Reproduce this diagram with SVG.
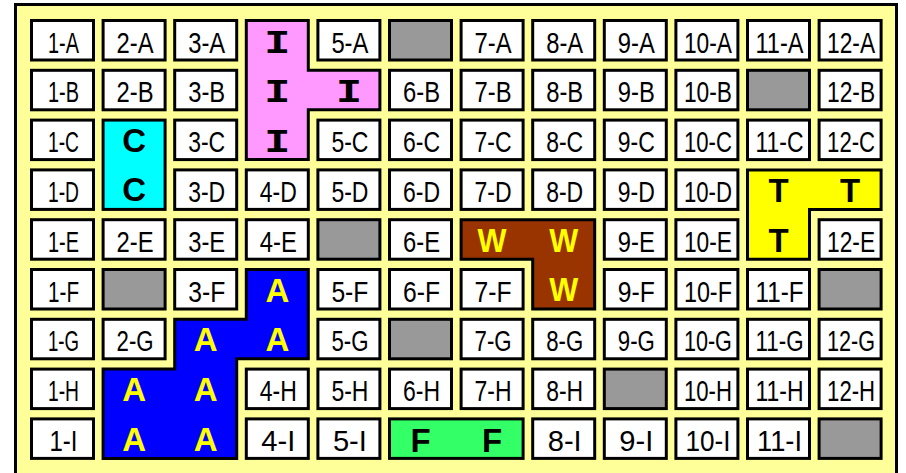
<svg xmlns="http://www.w3.org/2000/svg" width="906" height="473" viewBox="0 0 906 473">
<style>
.w{fill:#FFFFFF;stroke:#000;stroke-width:3}
.g{fill:#999999;stroke:#000;stroke-width:3}
.s{stroke:#000;stroke-width:3;stroke-linejoin:miter}
.t{font-family:"Liberation Sans",Arial,sans-serif;font-size:30px;fill:#000;text-anchor:middle}
.b{font-family:"Liberation Sans",Arial,sans-serif;font-weight:bold;font-size:33px;text-anchor:middle}
.bi{font-family:"Liberation Mono","Courier New",monospace;font-weight:bold;font-size:34px;text-anchor:middle;fill:#000}
</style>
<defs>
<rect id="box" x="1.5" y="1.5" width="62" height="39.5"/>
</defs>
<rect id="frame" x="15.5" y="4.5" width="881" height="480" fill="#FFFF99" stroke="#000" stroke-width="3"/>
<g id="cells">
<g id="c1A" transform="translate(30,19)"><use href="#box" class="w"/><text class="t" x="33.5" y="33.7" textLength="31" lengthAdjust="spacingAndGlyphs">1-A</text></g>
<g id="c2A" transform="translate(101.6,19)"><use href="#box" class="w"/><text class="t" x="33.5" y="33.7" textLength="37" lengthAdjust="spacingAndGlyphs">2-A</text></g>
<g id="c3A" transform="translate(173.2,19)"><use href="#box" class="w"/><text class="t" x="33.5" y="33.7" textLength="37" lengthAdjust="spacingAndGlyphs">3-A</text></g>
<g id="c5A" transform="translate(316.4,19)"><use href="#box" class="w"/><text class="t" x="33.5" y="33.7" textLength="37" lengthAdjust="spacingAndGlyphs">5-A</text></g>
<g id="c6A" transform="translate(388,19)"><use href="#box" class="g"/></g>
<g id="c7A" transform="translate(459.6,19)"><use href="#box" class="w"/><text class="t" x="33.5" y="33.7" textLength="37" lengthAdjust="spacingAndGlyphs">7-A</text></g>
<g id="c8A" transform="translate(531.2,19)"><use href="#box" class="w"/><text class="t" x="33.5" y="33.7" textLength="37" lengthAdjust="spacingAndGlyphs">8-A</text></g>
<g id="c9A" transform="translate(602.8,19)"><use href="#box" class="w"/><text class="t" x="33.5" y="33.7" textLength="37" lengthAdjust="spacingAndGlyphs">9-A</text></g>
<g id="c10A" transform="translate(674.4,19)"><use href="#box" class="w"/><text class="t" x="33.5" y="33.7" textLength="48" lengthAdjust="spacingAndGlyphs">10-A</text></g>
<g id="c11A" transform="translate(746,19)"><use href="#box" class="w"/><text class="t" x="33.5" y="33.7" textLength="48" lengthAdjust="spacingAndGlyphs">11-A</text></g>
<g id="c12A" transform="translate(817.6,19)"><use href="#box" class="w"/><text class="t" x="33.5" y="33.7" textLength="48" lengthAdjust="spacingAndGlyphs">12-A</text></g>

<g id="c1B" transform="translate(30,68.8)"><use href="#box" class="w"/><text class="t" x="33.5" y="33.7" textLength="31" lengthAdjust="spacingAndGlyphs">1-B</text></g>
<g id="c2B" transform="translate(101.6,68.8)"><use href="#box" class="w"/><text class="t" x="33.5" y="33.7" textLength="37" lengthAdjust="spacingAndGlyphs">2-B</text></g>
<g id="c3B" transform="translate(173.2,68.8)"><use href="#box" class="w"/><text class="t" x="33.5" y="33.7" textLength="37" lengthAdjust="spacingAndGlyphs">3-B</text></g>
<g id="c6B" transform="translate(388,68.8)"><use href="#box" class="w"/><text class="t" x="33.5" y="33.7" textLength="37" lengthAdjust="spacingAndGlyphs">6-B</text></g>
<g id="c7B" transform="translate(459.6,68.8)"><use href="#box" class="w"/><text class="t" x="33.5" y="33.7" textLength="37" lengthAdjust="spacingAndGlyphs">7-B</text></g>
<g id="c8B" transform="translate(531.2,68.8)"><use href="#box" class="w"/><text class="t" x="33.5" y="33.7" textLength="37" lengthAdjust="spacingAndGlyphs">8-B</text></g>
<g id="c9B" transform="translate(602.8,68.8)"><use href="#box" class="w"/><text class="t" x="33.5" y="33.7" textLength="37" lengthAdjust="spacingAndGlyphs">9-B</text></g>
<g id="c10B" transform="translate(674.4,68.8)"><use href="#box" class="w"/><text class="t" x="33.5" y="33.7" textLength="48" lengthAdjust="spacingAndGlyphs">10-B</text></g>
<g id="c11B" transform="translate(746,68.8)"><use href="#box" class="g"/></g>
<g id="c12B" transform="translate(817.6,68.8)"><use href="#box" class="w"/><text class="t" x="33.5" y="33.7" textLength="48" lengthAdjust="spacingAndGlyphs">12-B</text></g>

<g id="c1C" transform="translate(30,118.6)"><use href="#box" class="w"/><text class="t" x="33.5" y="33.7" textLength="31" lengthAdjust="spacingAndGlyphs">1-C</text></g>
<g id="c3C" transform="translate(173.2,118.6)"><use href="#box" class="w"/><text class="t" x="33.5" y="33.7" textLength="37" lengthAdjust="spacingAndGlyphs">3-C</text></g>
<g id="c5C" transform="translate(316.4,118.6)"><use href="#box" class="w"/><text class="t" x="33.5" y="33.7" textLength="37" lengthAdjust="spacingAndGlyphs">5-C</text></g>
<g id="c6C" transform="translate(388,118.6)"><use href="#box" class="w"/><text class="t" x="33.5" y="33.7" textLength="37" lengthAdjust="spacingAndGlyphs">6-C</text></g>
<g id="c7C" transform="translate(459.6,118.6)"><use href="#box" class="w"/><text class="t" x="33.5" y="33.7" textLength="37" lengthAdjust="spacingAndGlyphs">7-C</text></g>
<g id="c8C" transform="translate(531.2,118.6)"><use href="#box" class="w"/><text class="t" x="33.5" y="33.7" textLength="37" lengthAdjust="spacingAndGlyphs">8-C</text></g>
<g id="c9C" transform="translate(602.8,118.6)"><use href="#box" class="w"/><text class="t" x="33.5" y="33.7" textLength="37" lengthAdjust="spacingAndGlyphs">9-C</text></g>
<g id="c10C" transform="translate(674.4,118.6)"><use href="#box" class="w"/><text class="t" x="33.5" y="33.7" textLength="48" lengthAdjust="spacingAndGlyphs">10-C</text></g>
<g id="c11C" transform="translate(746,118.6)"><use href="#box" class="w"/><text class="t" x="33.5" y="33.7" textLength="48" lengthAdjust="spacingAndGlyphs">11-C</text></g>
<g id="c12C" transform="translate(817.6,118.6)"><use href="#box" class="w"/><text class="t" x="33.5" y="33.7" textLength="48" lengthAdjust="spacingAndGlyphs">12-C</text></g>

<g id="c1D" transform="translate(30,168.4)"><use href="#box" class="w"/><text class="t" x="33.5" y="33.7" textLength="31" lengthAdjust="spacingAndGlyphs">1-D</text></g>
<g id="c3D" transform="translate(173.2,168.4)"><use href="#box" class="w"/><text class="t" x="33.5" y="33.7" textLength="37" lengthAdjust="spacingAndGlyphs">3-D</text></g>
<g id="c4D" transform="translate(244.8,168.4)"><use href="#box" class="w"/><text class="t" x="33.5" y="33.7" textLength="37" lengthAdjust="spacingAndGlyphs">4-D</text></g>
<g id="c5D" transform="translate(316.4,168.4)"><use href="#box" class="w"/><text class="t" x="33.5" y="33.7" textLength="37" lengthAdjust="spacingAndGlyphs">5-D</text></g>
<g id="c6D" transform="translate(388,168.4)"><use href="#box" class="w"/><text class="t" x="33.5" y="33.7" textLength="37" lengthAdjust="spacingAndGlyphs">6-D</text></g>
<g id="c7D" transform="translate(459.6,168.4)"><use href="#box" class="w"/><text class="t" x="33.5" y="33.7" textLength="37" lengthAdjust="spacingAndGlyphs">7-D</text></g>
<g id="c8D" transform="translate(531.2,168.4)"><use href="#box" class="w"/><text class="t" x="33.5" y="33.7" textLength="37" lengthAdjust="spacingAndGlyphs">8-D</text></g>
<g id="c9D" transform="translate(602.8,168.4)"><use href="#box" class="w"/><text class="t" x="33.5" y="33.7" textLength="37" lengthAdjust="spacingAndGlyphs">9-D</text></g>
<g id="c10D" transform="translate(674.4,168.4)"><use href="#box" class="w"/><text class="t" x="33.5" y="33.7" textLength="48" lengthAdjust="spacingAndGlyphs">10-D</text></g>

<g id="c1E" transform="translate(30,218.2)"><use href="#box" class="w"/><text class="t" x="33.5" y="33.7" textLength="31" lengthAdjust="spacingAndGlyphs">1-E</text></g>
<g id="c2E" transform="translate(101.6,218.2)"><use href="#box" class="w"/><text class="t" x="33.5" y="33.7" textLength="37" lengthAdjust="spacingAndGlyphs">2-E</text></g>
<g id="c3E" transform="translate(173.2,218.2)"><use href="#box" class="w"/><text class="t" x="33.5" y="33.7" textLength="37" lengthAdjust="spacingAndGlyphs">3-E</text></g>
<g id="c4E" transform="translate(244.8,218.2)"><use href="#box" class="w"/><text class="t" x="33.5" y="33.7" textLength="37" lengthAdjust="spacingAndGlyphs">4-E</text></g>
<g id="c5E" transform="translate(316.4,218.2)"><use href="#box" class="g"/></g>
<g id="c6E" transform="translate(388,218.2)"><use href="#box" class="w"/><text class="t" x="33.5" y="33.7" textLength="37" lengthAdjust="spacingAndGlyphs">6-E</text></g>
<g id="c9E" transform="translate(602.8,218.2)"><use href="#box" class="w"/><text class="t" x="33.5" y="33.7" textLength="37" lengthAdjust="spacingAndGlyphs">9-E</text></g>
<g id="c10E" transform="translate(674.4,218.2)"><use href="#box" class="w"/><text class="t" x="33.5" y="33.7" textLength="48" lengthAdjust="spacingAndGlyphs">10-E</text></g>
<g id="c12E" transform="translate(817.6,218.2)"><use href="#box" class="w"/><text class="t" x="33.5" y="33.7" textLength="48" lengthAdjust="spacingAndGlyphs">12-E</text></g>

<g id="c1F" transform="translate(30,268)"><use href="#box" class="w"/><text class="t" x="33.5" y="33.7" textLength="31" lengthAdjust="spacingAndGlyphs">1-F</text></g>
<g id="c2F" transform="translate(101.6,268)"><use href="#box" class="g"/></g>
<g id="c3F" transform="translate(173.2,268)"><use href="#box" class="w"/><text class="t" x="33.5" y="33.7" textLength="37" lengthAdjust="spacingAndGlyphs">3-F</text></g>
<g id="c5F" transform="translate(316.4,268)"><use href="#box" class="w"/><text class="t" x="33.5" y="33.7" textLength="37" lengthAdjust="spacingAndGlyphs">5-F</text></g>
<g id="c6F" transform="translate(388,268)"><use href="#box" class="w"/><text class="t" x="33.5" y="33.7" textLength="37" lengthAdjust="spacingAndGlyphs">6-F</text></g>
<g id="c7F" transform="translate(459.6,268)"><use href="#box" class="w"/><text class="t" x="33.5" y="33.7" textLength="37" lengthAdjust="spacingAndGlyphs">7-F</text></g>
<g id="c9F" transform="translate(602.8,268)"><use href="#box" class="w"/><text class="t" x="33.5" y="33.7" textLength="37" lengthAdjust="spacingAndGlyphs">9-F</text></g>
<g id="c10F" transform="translate(674.4,268)"><use href="#box" class="w"/><text class="t" x="33.5" y="33.7" textLength="48" lengthAdjust="spacingAndGlyphs">10-F</text></g>
<g id="c11F" transform="translate(746,268)"><use href="#box" class="w"/><text class="t" x="33.5" y="33.7" textLength="48" lengthAdjust="spacingAndGlyphs">11-F</text></g>
<g id="c12F" transform="translate(817.6,268)"><use href="#box" class="g"/></g>

<g id="c1G" transform="translate(30,317.8)"><use href="#box" class="w"/><text class="t" x="33.5" y="33.7" textLength="31" lengthAdjust="spacingAndGlyphs">1-G</text></g>
<g id="c2G" transform="translate(101.6,317.8)"><use href="#box" class="w"/><text class="t" x="33.5" y="33.7" textLength="37" lengthAdjust="spacingAndGlyphs">2-G</text></g>
<g id="c5G" transform="translate(316.4,317.8)"><use href="#box" class="w"/><text class="t" x="33.5" y="33.7" textLength="37" lengthAdjust="spacingAndGlyphs">5-G</text></g>
<g id="c6G" transform="translate(388,317.8)"><use href="#box" class="g"/></g>
<g id="c7G" transform="translate(459.6,317.8)"><use href="#box" class="w"/><text class="t" x="33.5" y="33.7" textLength="37" lengthAdjust="spacingAndGlyphs">7-G</text></g>
<g id="c8G" transform="translate(531.2,317.8)"><use href="#box" class="w"/><text class="t" x="33.5" y="33.7" textLength="37" lengthAdjust="spacingAndGlyphs">8-G</text></g>
<g id="c9G" transform="translate(602.8,317.8)"><use href="#box" class="w"/><text class="t" x="33.5" y="33.7" textLength="37" lengthAdjust="spacingAndGlyphs">9-G</text></g>
<g id="c10G" transform="translate(674.4,317.8)"><use href="#box" class="w"/><text class="t" x="33.5" y="33.7" textLength="48" lengthAdjust="spacingAndGlyphs">10-G</text></g>
<g id="c11G" transform="translate(746,317.8)"><use href="#box" class="w"/><text class="t" x="33.5" y="33.7" textLength="48" lengthAdjust="spacingAndGlyphs">11-G</text></g>
<g id="c12G" transform="translate(817.6,317.8)"><use href="#box" class="w"/><text class="t" x="33.5" y="33.7" textLength="48" lengthAdjust="spacingAndGlyphs">12-G</text></g>

<g id="c1H" transform="translate(30,367.6)"><use href="#box" class="w"/><text class="t" x="33.5" y="33.7" textLength="31" lengthAdjust="spacingAndGlyphs">1-H</text></g>
<g id="c4H" transform="translate(244.8,367.6)"><use href="#box" class="w"/><text class="t" x="33.5" y="33.7" textLength="37" lengthAdjust="spacingAndGlyphs">4-H</text></g>
<g id="c5H" transform="translate(316.4,367.6)"><use href="#box" class="w"/><text class="t" x="33.5" y="33.7" textLength="37" lengthAdjust="spacingAndGlyphs">5-H</text></g>
<g id="c6H" transform="translate(388,367.6)"><use href="#box" class="w"/><text class="t" x="33.5" y="33.7" textLength="37" lengthAdjust="spacingAndGlyphs">6-H</text></g>
<g id="c7H" transform="translate(459.6,367.6)"><use href="#box" class="w"/><text class="t" x="33.5" y="33.7" textLength="37" lengthAdjust="spacingAndGlyphs">7-H</text></g>
<g id="c8H" transform="translate(531.2,367.6)"><use href="#box" class="w"/><text class="t" x="33.5" y="33.7" textLength="37" lengthAdjust="spacingAndGlyphs">8-H</text></g>
<g id="c9H" transform="translate(602.8,367.6)"><use href="#box" class="g"/></g>
<g id="c10H" transform="translate(674.4,367.6)"><use href="#box" class="w"/><text class="t" x="33.5" y="33.7" textLength="48" lengthAdjust="spacingAndGlyphs">10-H</text></g>
<g id="c11H" transform="translate(746,367.6)"><use href="#box" class="w"/><text class="t" x="33.5" y="33.7" textLength="48" lengthAdjust="spacingAndGlyphs">11-H</text></g>
<g id="c12H" transform="translate(817.6,367.6)"><use href="#box" class="w"/><text class="t" x="33.5" y="33.7" textLength="48" lengthAdjust="spacingAndGlyphs">12-H</text></g>

<g id="c1I" transform="translate(30,417.4)"><use href="#box" class="w"/><text class="t" x="33.5" y="33.7" textLength="28" lengthAdjust="spacingAndGlyphs">1-I</text></g>
<g id="c4I" transform="translate(244.8,417.4)"><use href="#box" class="w"/><text class="t" x="33.5" y="33.7" textLength="34" lengthAdjust="spacingAndGlyphs">4-I</text></g>
<g id="c5I" transform="translate(316.4,417.4)"><use href="#box" class="w"/><text class="t" x="33.5" y="33.7" textLength="34" lengthAdjust="spacingAndGlyphs">5-I</text></g>
<g id="c8I" transform="translate(531.2,417.4)"><use href="#box" class="w"/><text class="t" x="33.5" y="33.7" textLength="34" lengthAdjust="spacingAndGlyphs">8-I</text></g>
<g id="c9I" transform="translate(602.8,417.4)"><use href="#box" class="w"/><text class="t" x="33.5" y="33.7" textLength="34" lengthAdjust="spacingAndGlyphs">9-I</text></g>
<g id="c10I" transform="translate(674.4,417.4)"><use href="#box" class="w"/><text class="t" x="33.5" y="33.7" textLength="45" lengthAdjust="spacingAndGlyphs">10-I</text></g>
<g id="c11I" transform="translate(746,417.4)"><use href="#box" class="w"/><text class="t" x="33.5" y="33.7" textLength="45" lengthAdjust="spacingAndGlyphs">11-I</text></g>
<g id="c12I" transform="translate(817.6,417.4)"><use href="#box" class="g"/></g>
</g>

<g id="pieceI">
<polygon class="s" fill="#FF99FF" points="246.3,20.5 308.3,20.5 308.3,70.3 379.9,70.3 379.9,109.8 308.3,109.8 308.3,159.6 246.3,159.6"/>
<text class="bi" x="277.3" y="52.5" textLength="26" lengthAdjust="spacingAndGlyphs">I</text>
<text class="bi" x="277.3" y="102.3" textLength="26" lengthAdjust="spacingAndGlyphs">I</text>
<text class="bi" x="348.9" y="102.3" textLength="26" lengthAdjust="spacingAndGlyphs">I</text>
<text class="bi" x="277.3" y="152.1" textLength="26" lengthAdjust="spacingAndGlyphs">I</text>
</g>
<g id="pieceC">
<rect class="s" fill="#00FFFF" x="103.1" y="120.1" width="62" height="89.3"/>
<text class="b" fill="#000" x="134.1" y="151.5">C</text>
<text class="b" fill="#000" x="134.1" y="201.3">C</text>
</g>
<g id="pieceT">
<polygon class="s" fill="#FFFF00" points="747.5,169.9 881.1,169.9 881.1,209.4 809.5,209.4 809.5,259.2 747.5,259.2"/>
<text class="b" fill="#000" x="778.5" y="201.9">T</text>
<text class="b" fill="#000" x="850.1" y="201.9">T</text>
<text class="b" fill="#000" x="778.5" y="251.7">T</text>
</g>
<g id="pieceW">
<polygon class="s" fill="#993300" points="461.1,219.7 594.7,219.7 594.7,309 532.7,309 532.7,259.2 461.1,259.2"/>
<text class="b" fill="#FFFF00" x="492.1" y="251.5" textLength="29" lengthAdjust="spacingAndGlyphs">W</text>
<text class="b" fill="#FFFF00" x="563.7" y="251.5" textLength="29" lengthAdjust="spacingAndGlyphs">W</text>
<text class="b" fill="#FFFF00" x="563.7" y="301.3" textLength="29" lengthAdjust="spacingAndGlyphs">W</text>
</g>
<g id="pieceA">
<polygon class="s" fill="#0000FF" points="246.3,269.5 308.3,269.5 308.3,358.8 236.7,358.8 236.7,458.4 103.1,458.4 103.1,369.1 174.7,369.1 174.7,319.3 246.3,319.3"/>
<text class="b" fill="#FFFF00" x="277.3" y="301.5">A</text>
<text class="b" fill="#FFFF00" x="205.7" y="351.3">A</text>
<text class="b" fill="#FFFF00" x="277.3" y="351.3">A</text>
<text class="b" fill="#FFFF00" x="134.1" y="401.1">A</text>
<text class="b" fill="#FFFF00" x="205.7" y="401.1">A</text>
<text class="b" fill="#FFFF00" x="134.1" y="450.9">A</text>
<text class="b" fill="#FFFF00" x="205.7" y="450.9">A</text>
</g>
<g id="pieceF">
<rect class="s" fill="#33FF66" x="389.5" y="418.9" width="133.6" height="39.5"/>
<text class="b" fill="#000" x="420.5" y="451.5">F</text>
<text class="b" fill="#000" x="492.1" y="451.5">F</text>
</g>
</svg>
